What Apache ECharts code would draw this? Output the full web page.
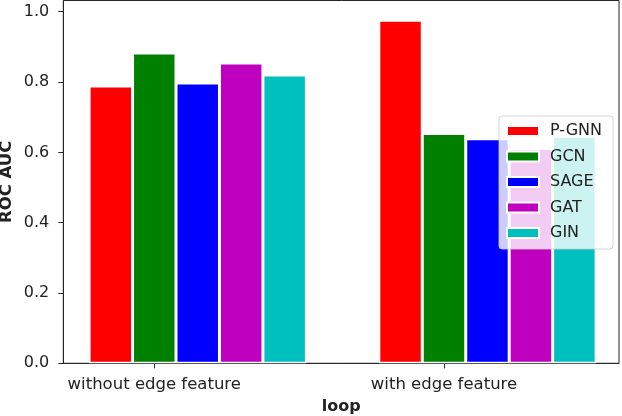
<!DOCTYPE html>
<html>
<head>
<meta charset="utf-8">
<script src="https://cdn.jsdelivr.net/npm/echarts@6/dist/echarts.min.js"></script>
<style>
  html, body { margin: 0; padding: 0; background: #fff; }
  #chart { width: 622px; height: 416px; }
</style>
</head>
<body>
<div id="chart"></div>
<script>
// ---- data ----
var categories = ['without edge feature', 'with edge feature'];
var seriesNames = ['P-GNN', 'GCN', 'SAGE', 'GAT', 'GIN'];
var pgnn = [0.789, 0.976];
var gcn  = [0.883, 0.654];
var sage = [0.797, 0.639];
var gat  = [0.854, 0.611];
var gin  = [0.820, 0.646];
var yTicks = [0.0, 0.2, 0.4, 0.6, 0.8, 1.0];

var seriesValues = [pgnn, gcn, sage, gat, gin];
var colors = ['#ff0000', '#008000', '#0000ff', '#bf00bf', '#00bfbf'];

var barUnit = 0.15;
var xTickValues = categories.map(function (c, i) { return i - barUnit; });

var FONT = 'DejaVu Sans';
var TXT = '#222';
var LINE = '#262626';

var chart = echarts.init(document.getElementById('chart'), null, { renderer: 'canvas' });

var series = seriesNames.map(function (name, k) {
  return {
    name: name,
    type: 'bar',
    barGap: '0%',
    barCategoryGap: '25%',
    itemStyle: { color: colors[k], borderColor: '#ffffff', borderWidth: 1.5 },
    emphasis: { disabled: true },
    data: seriesValues[k].map(function (v, i) { return [i, v]; })
  };
});

chart.setOption({
  animation: false,
  backgroundColor: '#ffffff',
  grid: {
    left: 63.3, right: 3, top: 0.5, bottom: 52.7,
    outerBoundsMode: 'none',
    containLabel: false,
    show: true, borderColor: LINE, borderWidth: 1, backgroundColor: 'transparent'
  },
  legend: {
    orient: 'vertical',
    left: 499, top: 116,
    padding: [7, 11, 8, 7],
    itemGap: 9.5,
    itemWidth: 32, itemHeight: 10,
    icon: 'rect',
    backgroundColor: 'rgba(255,255,255,0.8)',
    borderColor: 'rgba(204,204,204,0.8)',
    borderWidth: 1,
    borderRadius: 3,
    textStyle: { fontFamily: FONT, fontSize: 16, color: TXT, padding: [0, 0, 0, 6] },
    data: seriesNames
  },
  xAxis: {
    type: 'value',
    min: -0.464,
    max: 1.454,
    name: 'loop',
    nameLocation: 'middle',
    nameGap: 36,
    nameMoveOverlap: false,
    nameTextStyle: { fontFamily: FONT, fontSize: 16, fontWeight: 'bold', color: TXT },
    axisLine: { show: true, onZero: false, lineStyle: { color: LINE, width: 1 } },
    axisTick: { show: true, length: 5, customValues: xTickValues, lineStyle: { color: LINE } },
    axisLabel: {
      customValues: xTickValues,
      margin: 13,
      fontFamily: FONT, fontSize: 16.5, color: TXT,
      formatter: function (v) { return categories[Math.round(v + barUnit)]; }
    },
    splitLine: { show: false }
  },
  yAxis: {
    type: 'value',
    min: 0,
    max: 1.032,
    name: 'ROC AUC',
    nameLocation: 'middle',
    nameGap: 48,
    nameMoveOverlap: false,
    nameTextStyle: { fontFamily: FONT, fontSize: 16.5, fontWeight: 'bold', color: TXT },
    axisLine: { show: true, onZero: false, lineStyle: { color: LINE, width: 1 } },
    axisTick: { show: true, length: 5, customValues: yTicks, lineStyle: { color: LINE } },
    axisLabel: {
      customValues: yTicks,
      margin: 14,
      fontFamily: FONT, fontSize: 16, color: TXT,
      formatter: function (v) { return v.toFixed(1); }
    },
    splitLine: { show: false }
  },
  series: series
});
</script>
</body>
</html>
